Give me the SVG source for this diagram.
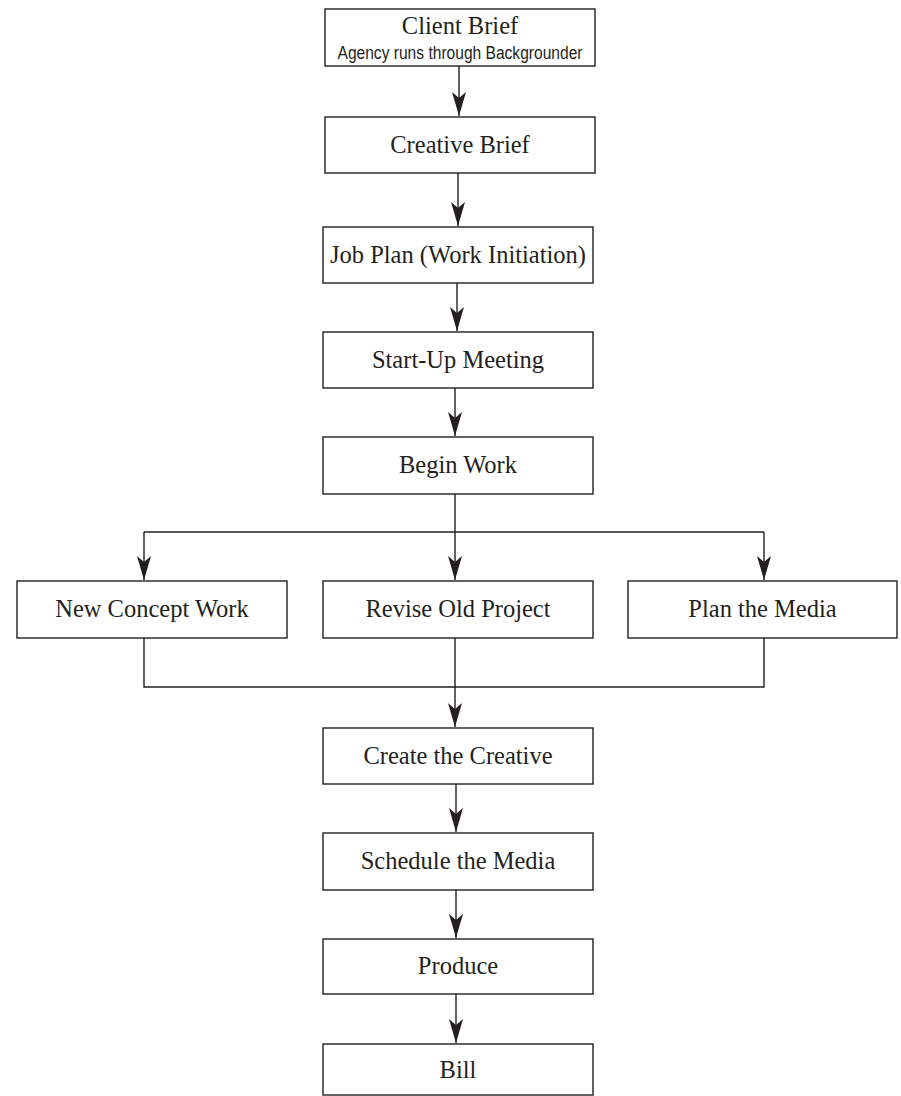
<svg xmlns="http://www.w3.org/2000/svg" width="901" height="1096" viewBox="0 0 901 1096">
  <style>
    .box { fill: #ffffff; stroke: #231f20; stroke-width: 1.4; }
    .lbl { font-family: "Liberation Serif", "Times New Roman", serif; font-size: 24.5px; fill: #231f20; text-anchor: middle; }
    .sub { font-family: "Liberation Sans", Arial, sans-serif; font-size: 18px; fill: #231f20; text-anchor: middle; }
    .wire { fill: none; stroke: #231f20; stroke-width: 1.4; }
    .arrow { marker-end: url(#head); }
  </style>
  <defs>
    <marker id="head" viewBox="-25 -8 26 16" refX="0" refY="0" markerWidth="26" markerHeight="16" markerUnits="userSpaceOnUse" orient="auto">
      <path d="M0,0 L-24,-7 L-18,0 L-24,7 Z" fill="#231f20"/>
    </marker>
  </defs>

  <rect width="901" height="1096" fill="#ffffff"/>

  <!-- connectors -->
  <g id="connectors">
    <path class="wire arrow" d="M459,66 V116"/>
    <path class="wire arrow" d="M458,173 V226"/>
    <path class="wire arrow" d="M457,283 V331"/>
    <path class="wire arrow" d="M455,388 V436"/>
    <!-- fan-out from Begin Work -->
    <path class="wire arrow" d="M455,494 V580"/>
    <path class="wire" d="M144,532 H764"/>
    <path class="wire arrow" d="M144,532 V580"/>
    <path class="wire arrow" d="M764,532 V580"/>
    <!-- merge into Create the Creative -->
    <path class="wire" d="M144,638 V687 H764 V638"/>
    <path class="wire arrow" d="M455,638 V727"/>
    <path class="wire arrow" d="M456,784 V832"/>
    <path class="wire arrow" d="M456,890 V938"/>
    <path class="wire arrow" d="M456,994 V1043"/>
  </g>

  <g id="client-brief">
    <rect class="box" x="325" y="9" width="270" height="57"/>
    <text class="lbl" x="460" y="34">Client Brief</text>
    <text class="sub" x="460" y="59" textLength="245" lengthAdjust="spacingAndGlyphs">Agency runs through Backgrounder</text>
  </g>
  <g id="creative-brief">
    <rect class="box" x="325" y="117" width="270" height="56"/>
    <text class="lbl" x="460" y="153">Creative Brief</text>
  </g>
  <g id="job-plan">
    <rect class="box" x="323" y="227" width="270" height="56"/>
    <text class="lbl" x="458" y="263">Job Plan (Work Initiation)</text>
  </g>
  <g id="start-up-meeting">
    <rect class="box" x="323" y="332" width="270" height="56"/>
    <text class="lbl" x="458" y="368">Start-Up Meeting</text>
  </g>
  <g id="begin-work">
    <rect class="box" x="323" y="437" width="270" height="57"/>
    <text class="lbl" x="458" y="473">Begin Work</text>
  </g>
  <g id="new-concept-work">
    <rect class="box" x="17" y="581" width="270" height="57"/>
    <text class="lbl" x="152" y="617">New Concept Work</text>
  </g>
  <g id="revise-old-project">
    <rect class="box" x="323" y="581" width="270" height="57"/>
    <text class="lbl" x="458" y="617">Revise Old Project</text>
  </g>
  <g id="plan-the-media">
    <rect class="box" x="628" y="581" width="269" height="57"/>
    <text class="lbl" x="762.5" y="617">Plan the Media</text>
  </g>
  <g id="create-the-creative">
    <rect class="box" x="323" y="728" width="270" height="56"/>
    <text class="lbl" x="458" y="764">Create the Creative</text>
  </g>
  <g id="schedule-the-media">
    <rect class="box" x="323" y="833" width="270" height="57"/>
    <text class="lbl" x="458" y="869">Schedule the Media</text>
  </g>
  <g id="produce">
    <rect class="box" x="323" y="939" width="270" height="55"/>
    <text class="lbl" x="458" y="974">Produce</text>
  </g>
  <g id="bill">
    <rect class="box" x="323" y="1044" width="270" height="51"/>
    <text class="lbl" x="458" y="1078">Bill</text>
  </g>
</svg>
